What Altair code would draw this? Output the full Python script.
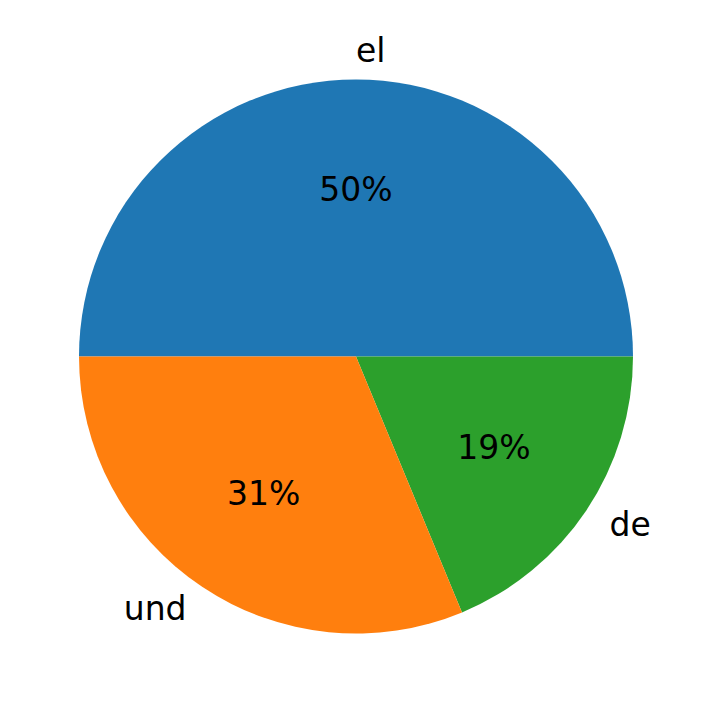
import altair as alt
import pandas as pd
import math

# slice values (clockwise order in Vega: el, de, und)
labels = ["el", "de", "und"]
values = [8, 3, 5]
colors = ["#1f77b4", "#2ca02c", "#ff7f0e"]
pct_text = ["50%", "19%", "31%"]
label_align = ["left", "left", "right"]

df = pd.DataFrame(
    {
        "label": labels,
        "value": values,
        "pct": pct_text,
        "align": label_align,
        "order": list(range(len(labels))),
    }
)

total = sum(values)
theta_scale = alt.Scale(domain=[0, total], range=[-math.pi / 2, 3 * math.pi / 2])

base = (
    alt.Chart(df)
    .transform_window(cum="sum(value)", sort=[alt.SortField("order")])
    .transform_calculate(
        start="datum.cum - datum.value",
        mid="datum.cum - datum.value / 2",
    )
)

arcs = base.mark_arc(radius=277, stroke=None).encode(
    theta=alt.Theta("start:Q", scale=theta_scale),
    theta2="cum:Q",
    color=alt.Color(
        "label:N",
        scale=alt.Scale(domain=labels, range=colors),
        legend=None,
    ),
)

pct = base.mark_text(
    radius=166, font="DejaVu Sans", fontSize=33, color="black", baseline="middle"
).encode(theta=alt.Theta("mid:Q", scale=theta_scale), text="pct:N")

left_labels = (
    base.transform_filter("datum.align == 'left'")
    .mark_text(
        radius=305,
        font="DejaVu Sans",
        fontSize=33,
        color="black",
        align="left",
        baseline="middle",
    )
    .encode(theta=alt.Theta("mid:Q", scale=theta_scale), text="label:N")
)

right_labels = (
    base.transform_filter("datum.align == 'right'")
    .mark_text(
        radius=305,
        font="DejaVu Sans",
        fontSize=33,
        color="black",
        align="right",
        baseline="middle",
    )
    .encode(theta=alt.Theta("mid:Q", scale=theta_scale), text="label:N")
)

chart = (
    alt.layer(arcs, pct, left_labels, right_labels)
    .properties(width=696, height=697, padding=0, autosize="none")
    .configure_view(stroke=None)
)

chart.save("out.html", embed_options={"renderer": "svg", "actions": False})
